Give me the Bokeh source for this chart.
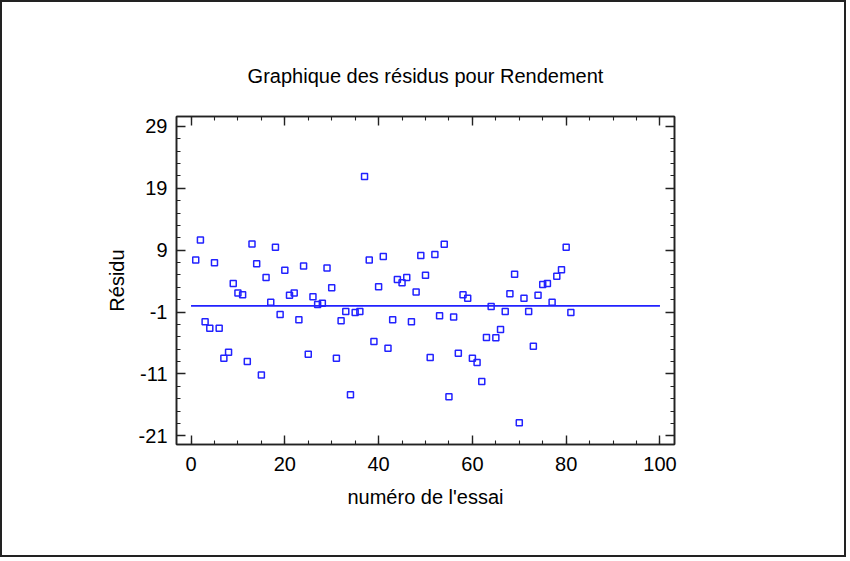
from bokeh.plotting import figure
from bokeh.models import FixedTicker, LinearAxis, Range1d
from bokeh.embed import file_html
from bokeh.resources import INLINE

# ---- data ----
trial = list(range(1, 82))
residual = [
    7.43, 10.66, -2.58, -3.62, 6.95, -3.62, -8.46, -7.49, 3.6, 2.1,
    1.78, -9.0, 10.0, 6.79, -11.15, 4.57, 0.58, 9.47, -1.4, 5.75,
    1.71, 2.1, -2.26, 6.46, -7.82, 1.46, 0.21, 0.42, 6.14, 2.91,
    -8.46, -2.42, -0.92, -14.38, -1.08, -0.92, 20.89, 7.43, -5.77, 3.07,
    7.97, -6.85, -2.26, 4.25, 3.72, 4.57, -2.58, 2.26, 8.13, 4.95,
    -8.35, 8.29, -1.61, 9.95, -14.7, -1.78, -7.66, 1.78, 1.23, -8.46,
    -9.16, -12.23, -5.12, -0.11, -5.17, -3.83, -0.92, 1.94, 5.11, -18.9,
    1.23, -0.92, -6.52, 1.71, 3.44, 3.6, 0.58, 4.78, 5.82, 9.47,
    -1.08,
]
ref_x = [0, 100]
ref_y = [0, 0]
x_ticks = [0, 20, 40, 60, 80, 100]
x_minor = list(range(0, 101, 5))
y_ticks = [-21, -11, -1, 9, 19, 29]
y_tick_labels = ["-21", "-11", "-1", "9", "19", "29"]
y_minor = list(range(-21, 30, 2))

title_text = "Graphique des résidus pour Rendement"
x_label = "numéro de l'essai"
y_label = "Résidu"

FONT = "Liberation Sans"
BLUE = "#2222ff"
AX = "#222222"

p = figure(width=846, height=557, output_backend="svg", toolbar_location=None,
           x_range=Range1d(-3.1, 103.1), y_range=Range1d(-22.4, 30.6),
           min_border_left=174, min_border_right=174,
           min_border_top=114, min_border_bottom=115,
           title=title_text)
p.styles = {"border": "2px solid #222222"}

p.title.align = "center"
p.title.text_font = FONT
p.title.text_font_size = "20px"
p.title.text_font_style = "normal"
p.title.text_color = "black"
p.title.standoff = 59

p.grid.visible = False
p.outline_line_color = AX
p.outline_line_width = 1.5

def style_axis(ax, show_labels):
    ax.axis_line_color = AX
    ax.axis_line_width = 1.6
    ax.major_tick_in = 9
    ax.major_tick_out = 0
    ax.minor_tick_in = 4
    ax.minor_tick_out = 0
    ax.major_tick_line_color = AX
    ax.minor_tick_line_color = AX
    ax.major_tick_line_width = 1.4
    ax.minor_tick_line_width = 1.1
    ax.major_label_text_font = FONT
    ax.major_label_text_font_size = "20px"
    ax.major_label_text_color = "black" if show_labels else None
    ax.axis_label_text_font = FONT
    ax.axis_label_text_font_size = "20px"
    ax.axis_label_text_font_style = "normal"
    ax.axis_label_text_color = "black"

p.xaxis.ticker = FixedTicker(ticks=x_ticks, minor_ticks=x_minor)
p.yaxis.ticker = FixedTicker(ticks=y_ticks, minor_ticks=y_minor)
style_axis(p.xaxis[0], True)
style_axis(p.yaxis[0], True)
p.yaxis.major_label_overrides = {t: s for t, s in zip(y_ticks, y_tick_labels)}
p.xaxis.axis_label = x_label
p.yaxis.axis_label = y_label
p.xaxis.major_label_standoff = 12
p.yaxis.major_label_standoff = 9
p.xaxis.axis_label_standoff = 12
p.yaxis.axis_label_standoff = 8

top_ax = LinearAxis(ticker=FixedTicker(ticks=x_ticks, minor_ticks=x_minor))
style_axis(top_ax, False)
top_ax.major_label_text_font_size = "0px"
p.add_layout(top_ax, "above")
right_ax = LinearAxis(ticker=FixedTicker(ticks=y_ticks, minor_ticks=y_minor))
style_axis(right_ax, False)
right_ax.major_label_text_font_size = "0px"
p.add_layout(right_ax, "right")

p.line(ref_x, ref_y, line_color=BLUE, line_width=1.6)
p.scatter(trial, residual, marker="square", size=6, fill_color=None,
          line_color=BLUE, line_width=1.5)

open("out.html", "w").write(file_html(p, INLINE))
